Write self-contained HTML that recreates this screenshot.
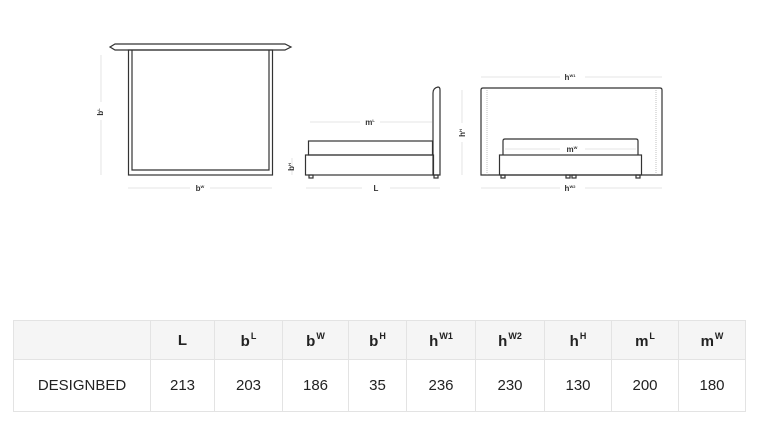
<!DOCTYPE html>
<html><head><meta charset="utf-8"><style>
body{margin:0;width:762px;height:421px;background:#fff;font-family:"Liberation Sans",sans-serif;position:relative;overflow:hidden}
svg{position:absolute;left:0;top:0}
table{position:absolute;left:13px;top:320px;border-collapse:collapse;width:733px;color:#222}
td{border:1px solid #e3e3e3;text-align:center;font-size:15px;padding:0}
tr.h td{background:#f5f5f5;height:38px;font-weight:bold}
tr.b td{height:51px}
sup{font-size:9px;font-weight:bold;vertical-align:7px;margin-left:1px}
</style></head><body>
<svg width="762" height="300" viewBox="0 0 762 300" fill="none" stroke="#333" stroke-width="1.2" font-family="Liberation Sans" font-size="8" font-weight="bold">
<path d="M110 47 L115 44 L285 44 L291 47 L285 50 L115 50 Z"/>
<rect x="128.5" y="50" width="144" height="125"/>
<path d="M132 50 V170 H269 V50"/>
<g stroke="#ddd" stroke-width="0.8">
<line x1="101" y1="55" x2="101" y2="102"/><line x1="101" y1="120" x2="101" y2="175"/>
<line x1="128" y1="188" x2="190" y2="188"/><line x1="210" y1="188" x2="272" y2="188"/>
<line x1="310" y1="122" x2="360" y2="122"/><line x1="380" y1="122" x2="432" y2="122"/>
<line x1="306" y1="188" x2="362" y2="188"/><line x1="390" y1="188" x2="440" y2="188"/>
<line x1="292" y1="158" x2="292" y2="175"/>
<line x1="481" y1="77" x2="560" y2="77"/><line x1="585" y1="77" x2="662" y2="77"/>
<line x1="481" y1="188" x2="560" y2="188"/><line x1="585" y1="188" x2="662" y2="188"/>
<line x1="462" y1="90" x2="462" y2="123"/><line x1="462" y1="142" x2="462" y2="175"/>
<line x1="505" y1="149" x2="560" y2="149"/><line x1="585" y1="149" x2="636" y2="149"/>
</g>
<g fill="#333" stroke="none">
<text x="103" y="112" transform="rotate(-90 103 112)" text-anchor="middle">b<tspan font-size="4" dy="-3">L</tspan></text>
<text x="200" y="191" text-anchor="middle">b<tspan font-size="4" dy="-3">W</tspan></text>
<text x="370" y="125" text-anchor="middle">m<tspan font-size="4" dy="-3">L</tspan></text>
<text x="376" y="191" text-anchor="middle">L</text>
<text x="294" y="167" transform="rotate(-90 294 167)" text-anchor="middle">b<tspan font-size="4" dy="-3">H</tspan></text>
<text x="570" y="80" text-anchor="middle">h<tspan font-size="4" dy="-3">W1</tspan></text>
<text x="570" y="191" text-anchor="middle">h<tspan font-size="4" dy="-3">W2</tspan></text>
<text x="572" y="152" text-anchor="middle">m<tspan font-size="4" dy="-3">W</tspan></text>
<text x="465" y="133" transform="rotate(-90 465 133)" text-anchor="middle">h<tspan font-size="4" dy="-3">H</tspan></text>
</g>
<path d="M433 175 V93 Q433 88 438 87 Q440 87 440 90 V175 Z"/>
<rect x="308.5" y="141" width="124" height="14"/>
<rect x="305.5" y="155" width="128" height="20"/>
<rect x="309" y="175" width="4" height="3"/><rect x="434" y="175" width="4" height="3"/>
<path d="M481 175 V90 Q481 88 483 88 H660 Q662 88 662 90 V175 Z"/>
<g stroke="#999" stroke-width="0.6" stroke-dasharray="1 1"><line x1="487" y1="90" x2="487" y2="175"/><line x1="656" y1="90" x2="656" y2="175"/></g>
<path d="M503 155 V141 Q503 139 505 139 H636 Q638 139 638 141 V155"/>
<rect x="499.5" y="155" width="142" height="20"/>
<rect x="501" y="175" width="4" height="3"/><rect x="566" y="175" width="4" height="3"/><rect x="572" y="175" width="4" height="3"/><rect x="636" y="175" width="4" height="3"/>
</svg>
<table>
<tr class="h"><td style="width:136px"></td><td style="width:63px">L</td><td style="width:67px">b<sup>L</sup></td><td style="width:65px">b<sup>W</sup></td><td style="width:57px">b<sup>H</sup></td><td style="width:68px">h<sup>W1</sup></td><td style="width:68px">h<sup>W2</sup></td><td style="width:66px">h<sup>H</sup></td><td style="width:66px">m<sup>L</sup></td><td>m<sup>W</sup></td></tr>
<tr class="b"><td>DESIGNBED</td><td>213</td><td>203</td><td>186</td><td>35</td><td>236</td><td>230</td><td>130</td><td>200</td><td>180</td></tr>
</table>
</body></html>
